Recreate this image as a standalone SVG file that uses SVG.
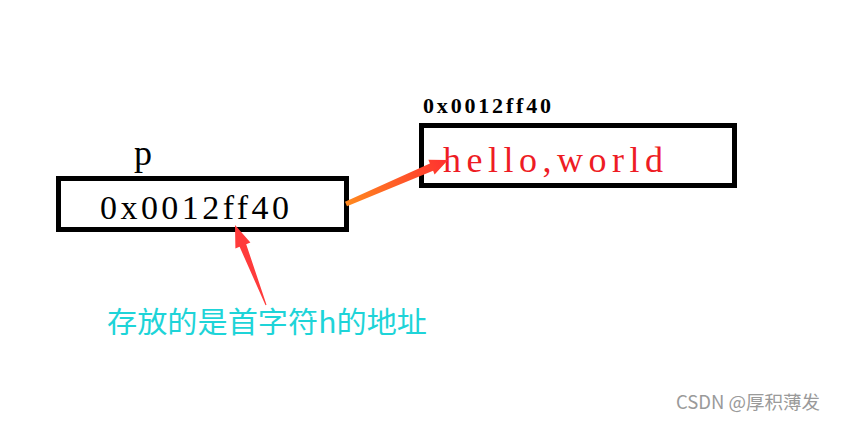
<svg xmlns="http://www.w3.org/2000/svg" width="849" height="421" viewBox="0 0 849 421">
<style>
.box{fill:none;stroke:#000;stroke-width:5}
.serif{font-family:"Liberation Serif","Noto Sans CJK SC",serif}
.cjk{font-family:"Noto Sans CJK SC","Noto Sans",sans-serif}
</style>
<defs>
<linearGradient id="g1" gradientUnits="userSpaceOnUse" x1="345" y1="204" x2="448" y2="160">
<stop offset="0" stop-color="#ff8a1e"/>
<stop offset="1" stop-color="#ff3030"/>
</linearGradient>
</defs>
<rect width="849" height="421" fill="#fff"/>
<g id="node-p">
<text class="serif" x="134" y="165" font-size="36" fill="#000">p</text>
<rect class="box" x="58.5" y="178.5" width="288" height="51"/>
<text class="serif" x="100" y="219" font-size="34" fill="#000" textLength="189" lengthAdjust="spacing">0x0012ff40</text>
</g>
<g id="node-str">
<text class="serif" x="423" y="113" font-size="22" font-weight="bold" fill="#000" textLength="128" lengthAdjust="spacing">0x0012ff40</text>
<rect class="box" x="421.5" y="125.5" width="313" height="60"/>
<text class="serif" x="443" y="172" font-size="36" fill="#ee1c24" textLength="220" lengthAdjust="spacing">hello,world</text>
</g>
<g id="node-note">
<text class="cjk" x="107" y="333" font-size="29" fill="#1ed4d8" textLength="320" lengthAdjust="spacingAndGlyphs">存放的是首字符h的地址</text>
</g>
<g id="connectors">
<polygon points="347,206.3 433.1,170.8 434.6,174.5 448,160 428.4,159.7 429.9,163.4 345,201.7" fill="url(#g1)"/>
<polygon points="266.5,304.8 246.2,244.2 250.4,242.6 235,225 235.4,248.4 239.6,246.8 265.5,305.2" fill="#ff3b3b"/>
</g>
<text class="cjk" x="676" y="409" font-size="18.5" fill="#9a9a9a">CSDN @厚积薄发</text>
</svg>
